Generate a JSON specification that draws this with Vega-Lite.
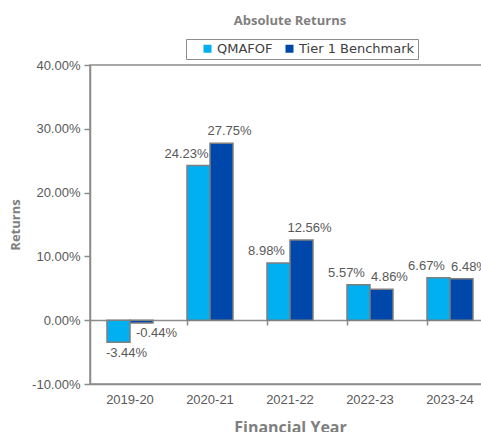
{
  "$schema": "https://vega.github.io/schema/vega-lite/v6.json",
  "autosize": {"type": "none"},
  "padding": {"left": 90, "top": 65, "right": 0, "bottom": 48},
  "width": 400,
  "height": 319,
  "background": "white",
  "config": {
    "locale": {"number": {"decimal": ".", "thousands": ",", "grouping": [3], "currency": ["$", ""], "minus": "-"}},
    "view": {"stroke": "#8c8c8c", "strokeWidth": 1.5},
    "axis": {"grid": false, "domainColor": "#8c8c8c", "tickColor": "#8c8c8c", "domainWidth": 1.5, "tickWidth": 1.5,
             "labelFont": "Liberation Sans", "labelFontSize": 13, "labelColor": "#595959",
             "titleFont": "Open Sans", "titleFontSize": 13, "titleFontWeight": "bold", "titleColor": "#7f7f7f"},
    "legend": {"labelFont": "DejaVu Sans", "labelFontSize": 13, "labelColor": "#404040"}
  },
  "title": {"text": "Absolute Returns", "font": "Open Sans", "fontSize": 13, "fontWeight": "bold", "color": "#7f7f7f", "anchor": "middle", "offset": 11},
  "data": {"values": [
    {"Year": "2019-20", "Series": "QMAFOF", "value": -0.0344},
    {"Year": "2019-20", "Series": "Tier 1 Benchmark", "value": -0.0044},
    {"Year": "2020-21", "Series": "QMAFOF", "value": 0.2423},
    {"Year": "2020-21", "Series": "Tier 1 Benchmark", "value": 0.2775},
    {"Year": "2021-22", "Series": "QMAFOF", "value": 0.0898},
    {"Year": "2021-22", "Series": "Tier 1 Benchmark", "value": 0.1256},
    {"Year": "2022-23", "Series": "QMAFOF", "value": 0.0557},
    {"Year": "2022-23", "Series": "Tier 1 Benchmark", "value": 0.0486},
    {"Year": "2023-24", "Series": "QMAFOF", "value": 0.0667},
    {"Year": "2023-24", "Series": "Tier 1 Benchmark", "value": 0.0648}
  ]},
  "encoding": {
    "x": {"field": "Year", "type": "nominal", "scale": {"paddingInner": 0.425, "paddingOuter": 0.2125}},
    "xOffset": {"field": "Series", "type": "nominal", "scale": {"padding": 0}},
    "y": {"field": "value", "type": "quantitative", "scale": {"domain": [-0.1, 0.4], "nice": false}}
  },
  "resolve": {"axis": {"x": "independent"}},
  "layer": [
    {
      "mark": {"type": "bar", "stroke": "#7f7f7f", "strokeWidth": 1.5},
      "encoding": {
        "x": {"field": "Year", "type": "nominal", "axis": {"orient": "bottom", "title": "Financial Year", "titleFontSize": 16, "labelAngle": 0, "ticks": false, "labelPadding": 9, "titlePadding": 13}},
        "y": {"field": "value", "type": "quantitative", "axis": {"title": "Returns", "format": ".2%", "values": [-0.1, 0, 0.1, 0.2, 0.3, 0.4], "tickSize": 6, "labelPadding": 4, "titlePadding": 9}},
        "color": {"field": "Series", "type": "nominal",
                  "scale": {"domain": ["QMAFOF", "Tier 1 Benchmark"], "range": ["#00B0F0", "#0047AB"]},
                  "legend": {"title": " ", "titleOrient": "left", "titlePadding": 12, "titleFontSize": 4, "orient": "none", "legendX": 96, "legendY": -26, "direction": "horizontal",
                             "symbolType": "square", "symbolSize": 64, "symbolStrokeWidth": 0, "strokeColor": "#8c8c8c", "padding": 3, "columnPadding": 10, "labelOffset": 3}}
      }
    },
    {
      "mark": {"type": "rule", "opacity": 0},
      "encoding": {
        "x": {"field": "Year", "type": "nominal", "axis": {"orient": "bottom", "title": null, "labels": false, "ticks": true, "tickSize": 5, "bandPosition": 0, "offset": -64}},
        "y": {"datum": 0}
      }
    },
    {
      "transform": [{"filter": "datum.Series == 'QMAFOF' && datum.value >= 0"}],
      "mark": {"type": "text", "font": "Liberation Sans", "fontSize": 13, "color": "#595959", "baseline": "bottom", "dx": -12, "dy": -5},
      "encoding": {"x": {"field": "Year", "type": "nominal", "axis": null}, "text": {"field": "value", "format": ".2%"}}
    },
    {
      "transform": [{"filter": "datum.Series != 'QMAFOF' && datum.value >= 0"}],
      "mark": {"type": "text", "font": "Liberation Sans", "fontSize": 13, "color": "#595959", "baseline": "bottom", "dx": 8, "dy": -5},
      "encoding": {"x": {"field": "Year", "type": "nominal", "axis": null}, "text": {"field": "value", "format": ".2%"}}
    },
    {
      "transform": [{"filter": "datum.Series == 'QMAFOF' && datum.value < 0"}],
      "mark": {"type": "text", "font": "Liberation Sans", "fontSize": 13, "color": "#595959", "baseline": "top", "dx": 8, "dy": 5},
      "encoding": {"x": {"field": "Year", "type": "nominal", "axis": null}, "text": {"field": "value", "format": ".2%"}}
    },
    {
      "transform": [{"filter": "datum.Series != 'QMAFOF' && datum.value < 0"}],
      "mark": {"type": "text", "font": "Liberation Sans", "fontSize": 13, "color": "#595959", "baseline": "top", "dx": 15, "dy": 4},
      "encoding": {"x": {"field": "Year", "type": "nominal", "axis": null}, "text": {"field": "value", "format": ".2%"}}
    }
  ]
}
